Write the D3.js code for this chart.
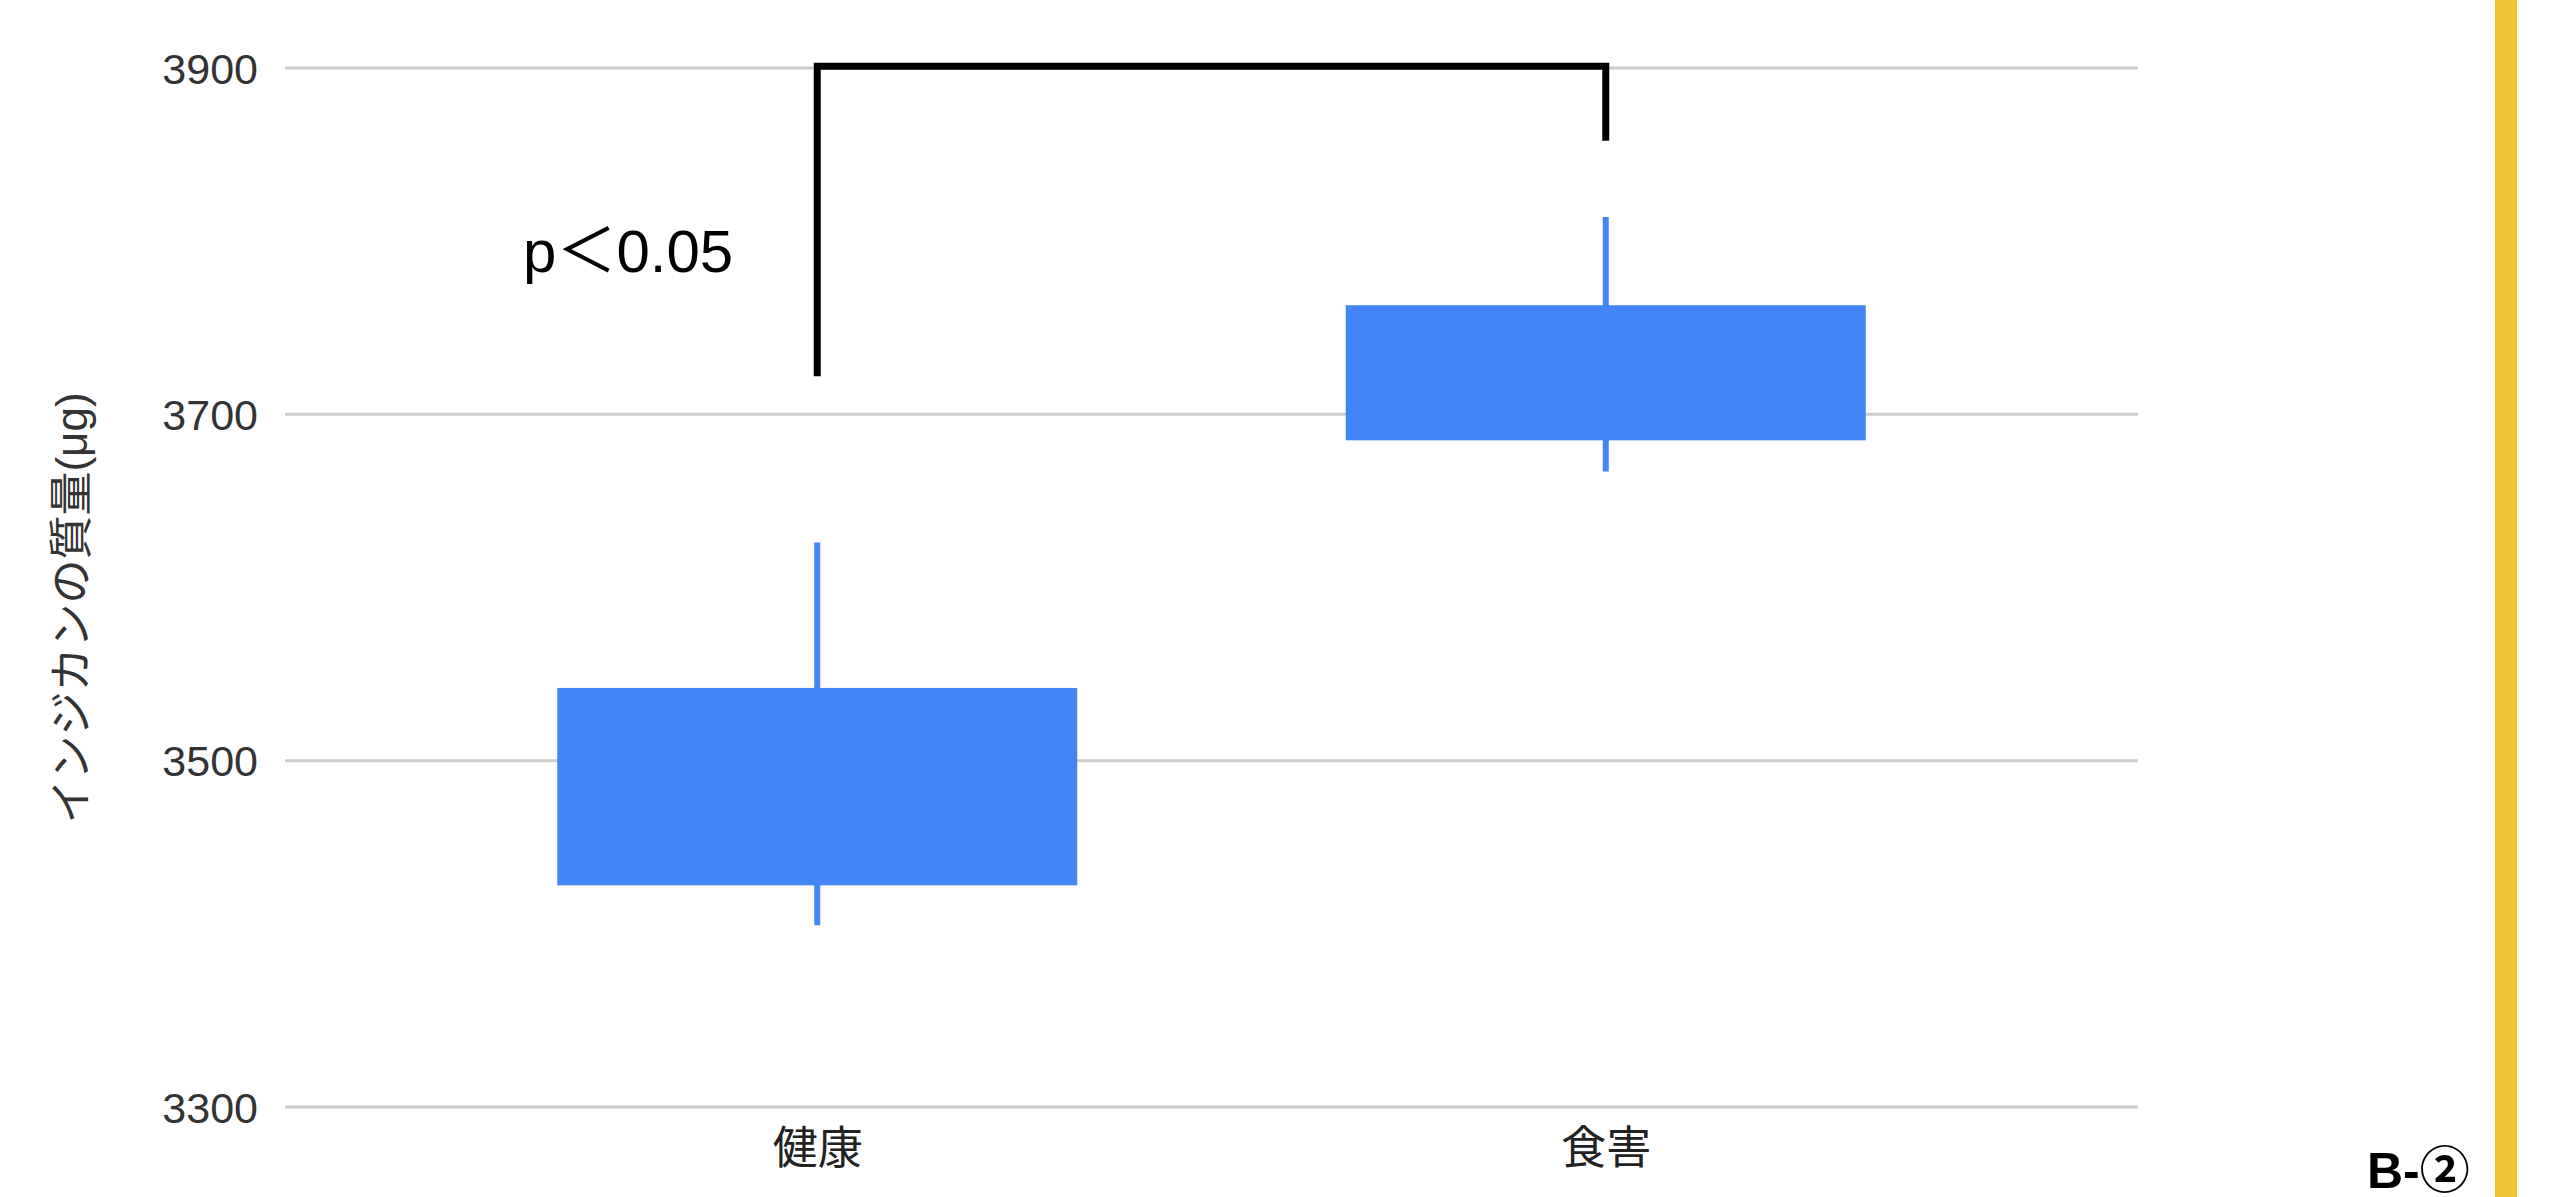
<!DOCTYPE html>
<html>
<head>
<meta charset="utf-8">
<script src="https://cdn.jsdelivr.net/npm/d3@7"></script>
<style>
  html, body { margin: 0; padding: 0; background: #ffffff; }
  svg { display: block; }
</style>
</head>
<body>
<script>
// ---- data ----
const categories = ["健康", "食害"];
const lowValues  = [3405, 3667];
const q1Values   = [3428, 3685];
const q3Values   = [3542, 3763];
const highValues = [3626, 3814];
const yTicks     = [3300, 3500, 3700, 3900];
const yLabel     = "インジカンの質量(μg)";
const sigLabel   = "p＜0.05";
const bracketTop = 3901;
const bracketEnds = [3722, 3858];
const panelLabel = "B-②";

// ---- layout ----
const W = 2549, H = 1197;
const plotLeft = 285, plotRight = 2138;
const plotTop = 68, plotBottom = 1107;

const svg = d3.select("body").append("svg")
  .attr("width", W).attr("height", H);

svg.append("rect").attr("width", W).attr("height", H).attr("fill", "#ffffff");

const y = d3.scaleLinear().domain([3300, 3900]).range([plotBottom, plotTop]);
const x = d3.scalePoint().domain(categories).range([plotLeft, plotRight]).padding(0.675);
const boxW = 520;

// gridlines
svg.append("g").selectAll("line").data(yTicks).join("line")
  .attr("x1", plotLeft).attr("x2", plotRight)
  .attr("y1", d => y(d)).attr("y2", d => y(d))
  .attr("stroke", "#cccccc").attr("stroke-width", 3);

// y axis tick labels
const yAxis = d3.axisLeft(y).tickValues(yTicks).tickSize(0).tickPadding(0).tickFormat(d3.format("d"));
const gy = svg.append("g").attr("transform", `translate(258,0)`).call(yAxis);
gy.select(".domain").remove();
gy.selectAll("text")
  .attr("font-family", "'Liberation Sans', Arial, sans-serif")
  .attr("font-size", 43).attr("fill", "#333333").attr("dy", "0.35em");

// x axis category labels
const xAxis = d3.axisBottom(x).tickSize(0).tickPadding(0);
const gx = svg.append("g").attr("transform", `translate(0,1127)`).call(xAxis);
gx.select(".domain").remove();
gx.selectAll("text")
  .attr("font-family", "'Noto Sans CJK JP', sans-serif")
  .attr("font-size", 45).attr("fill", "#222222").attr("dy", "0.82em");

// y axis title
svg.append("text")
  .attr("transform", `translate(87,608) rotate(-90)`)
  .attr("text-anchor", "middle")
  .attr("font-family", "'Liberation Sans', 'Noto Sans CJK JP', sans-serif")
  .attr("font-size", 44).attr("fill", "#333333")
  .text(yLabel);

// candles
const idx = d3.range(categories.length);
const g = svg.append("g");
g.selectAll("line.whisker").data(idx).join("line")
  .attr("class", "whisker")
  .attr("x1", i => x(categories[i])).attr("x2", i => x(categories[i]))
  .attr("y1", i => y(highValues[i])).attr("y2", i => y(lowValues[i]))
  .attr("stroke", "#4285f4").attr("stroke-width", 6);
g.selectAll("rect.box").data(idx).join("rect")
  .attr("class", "box")
  .attr("x", i => x(categories[i]) - boxW / 2)
  .attr("width", boxW)
  .attr("y", i => y(q3Values[i]))
  .attr("height", i => y(q1Values[i]) - y(q3Values[i]))
  .attr("fill", "#4285f4");

// significance bracket
const bx0 = x(categories[0]), bx1 = x(categories[1]);
svg.append("path")
  .attr("d", `M${bx0},${y(bracketEnds[0])} V${y(bracketTop)} H${bx1} V${y(bracketEnds[1])}`)
  .attr("fill", "none").attr("stroke", "#000000").attr("stroke-width", 7)
  .attr("stroke-linejoin", "miter").attr("stroke-linecap", "butt");

svg.append("text")
  .attr("x", bx0 - 84).attr("y", 272)
  .attr("text-anchor", "end")
  .attr("font-family", "'Liberation Sans', 'Noto Sans CJK JP', sans-serif")
  .attr("font-size", 60).attr("fill", "#000000")
  .text(sigLabel);

// panel label
svg.append("text")
  .attr("x", 2367).attr("y", 1188)
  .attr("font-family", "'Liberation Sans', 'Noto Sans CJK JP', sans-serif")
  .attr("font-weight", "bold")
  .attr("font-size", 50).attr("fill", "#000000")
  .text(panelLabel);

// yellow side bar
svg.append("rect")
  .attr("x", 2495).attr("y", 0).attr("width", 22).attr("height", H)
  .attr("fill", "#f1c232");
</script>
</body>
</html>
